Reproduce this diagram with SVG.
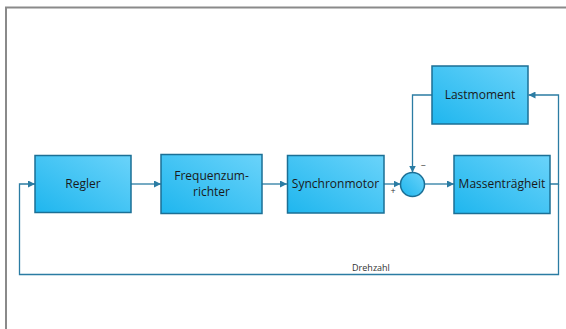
<svg xmlns="http://www.w3.org/2000/svg" width="566" height="329" viewBox="0 0 566 329">
  <style>
    .blk { fill: url(#blkFill); stroke: #1b6f95; stroke-width: 1.5; }
    .lbl { font-family: "Open Sans", "Noto Sans", sans-serif; font-size: 12px; fill: #1a1a1a; text-anchor: middle; }
    .sm { font-family: "Open Sans", "Noto Sans", sans-serif; font-size: 9px; fill: #333; text-anchor: middle; }
    .wire { fill: none; stroke: #2b7ca3; stroke-width: 1.3; }
  </style>
  <defs>
    <linearGradient id="blkFill" x1="0" y1="1" x2="1" y2="0">
      <stop offset="0" stop-color="#1fb6ee"/>
      <stop offset="1" stop-color="#6ad3fa"/>
    </linearGradient>
    <marker id="arr" viewBox="0 0 8 8" refX="8" refY="4" markerWidth="7" markerHeight="7" markerUnits="userSpaceOnUse" orient="auto">
      <path d="M0,0 L8,4 L0,8 z" fill="#2b7ca3"/>
    </marker>
  </defs>

  <!-- page frame -->
  <path d="M6,329 V7.5 H566" fill="none" stroke="#8a8a8a" stroke-width="2"/>

  <!-- connectors -->
  <g id="connectors">
    <path class="wire" d="M131,184 H161" marker-end="url(#arr)"/>
    <path class="wire" d="M262,184 H287" marker-end="url(#arr)"/>
    <path class="wire" d="M384,184 H400.5" marker-end="url(#arr)"/>
    <path class="wire" d="M424.5,184 H454" marker-end="url(#arr)"/>
    <path class="wire" d="M432,95 H412.5 V172.5" marker-end="url(#arr)"/>
    <path class="wire" d="M550,184 H558.5 V95 H528.5" marker-end="url(#arr)"/>
    <path class="wire" d="M558.5,184 V274.5 H19.5 V184 H35" marker-end="url(#arr)"/>
    <text class="sm" x="371" y="271">Drehzahl</text>
    <text class="sm" x="393" y="194">+</text>
    <text class="sm" x="423" y="169" fill="#777">−</text>
  </g>

  <g id="regler">
    <rect class="blk" x="35" y="155.5" width="96" height="57"/>
    <text class="lbl" x="83" y="188">Regler</text>
  </g>
  <g id="frequenzumrichter">
    <rect class="blk" x="161" y="154.5" width="101" height="59"/>
    <text class="lbl" x="211.5" y="180">Frequenzum-</text>
    <text class="lbl" x="211.5" y="196">richter</text>
  </g>
  <g id="synchronmotor">
    <rect class="blk" x="287.5" y="155.5" width="96.5" height="57.5"/>
    <text class="lbl" x="335.5" y="188">Synchronmotor</text>
  </g>
  <g id="summierer">
    <circle class="blk" cx="412.5" cy="184.5" r="12"/>
  </g>
  <g id="massentraegheit">
    <rect class="blk" x="454" y="155.5" width="96" height="58"/>
    <text class="lbl" x="502" y="188">Massenträgheit</text>
  </g>
  <g id="lastmoment">
    <rect class="blk" x="432" y="66" width="96" height="58"/>
    <text class="lbl" x="480" y="99">Lastmoment</text>
  </g>
</svg>
